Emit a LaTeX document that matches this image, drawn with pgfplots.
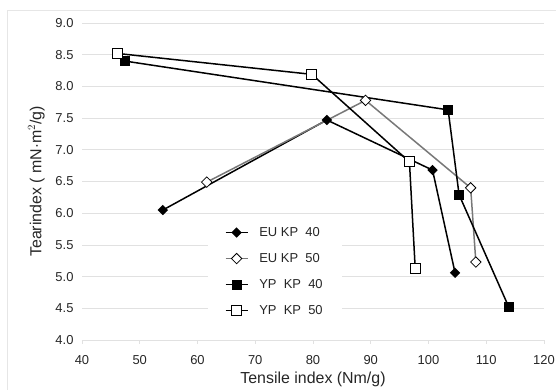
\documentclass[border=0pt]{standalone}
\usepackage{pgfplots}
\pgfplotsset{compat=1.18}
\usepackage{fontspec}
\setmainfont{Liberation Sans}
\definecolor{gridgray}{RGB}{225,225,225}
\definecolor{framegray}{RGB}{230,230,230}
\definecolor{eugray}{RGB}{120,120,120}
\begin{document}
\begin{tikzpicture}
\useasboundingbox (-82bp,-50bp) rectangle (474bp,340bp);
\draw[framegray, line width=0.8bp] (-75bp,-55bp) -- (-75bp,330bp) -- (480bp,330bp);
\begin{axis}[
  at={(0,0)}, anchor=south west,
  scale only axis, width=462bp, height=317bp,
  xmin=40, xmax=120, ymin=4, ymax=9,
  xtick={40,50,...,120}, ytick={4,4.5,...,9},
  /pgf/number format/assume math mode=true,
  yticklabel={\pgfmathprintnumber[fixed,fixed zerofill,precision=1]{\tick}},
  xticklabel={\pgfmathprintnumber[fixed,precision=0]{\tick}},
  axis lines*=left,
  y axis line style={draw=none},
  x axis line style={gridgray, line width=0.8bp, -},
  ymajorgrids, major grid style={gridgray, line width=0.8bp},
  xtick style={gridgray, line width=0.8bp},
  major tick length=4bp, tick align=outside,
  ytick style={draw=none},
  tick label style={font=\fontsize{13}{15}\selectfont, text=black!85},
  yticklabel style={xshift=-1bp},
  xticklabel style={yshift=-8bp},
  xlabel={Tensile index (Nm/g)},
  ylabel={Tearindex ( mN$\cdot$m$^2$/g)},
  label style={font=\fontsize{16}{18}\selectfont, text=black!85},
  xlabel style={yshift=0bp},
  ylabel style={yshift=4bp},
  legend style={at={(0.272,0.372)}, anchor=north west, draw=none, fill=white,
    font=\fontsize{13}{15}\selectfont, text=black!85, row sep=11.5bp,
    inner xsep=17bp, inner ysep=3bp},
  legend cell align=left,
  legend image code/.code={
    \draw[#1] (0bp,0bp) -- (22bp,0bp);
    \draw[#1] plot coordinates {(11bp,0bp)};
    \path (31bp,0bp);
  },
  clip=false,
]
\addplot[black, line width=1.5bp, mark=square*, mark size=2.9bp,
  mark options={fill=black, solid, rotate=45}]
  coordinates {(54,6.05) (82.4,7.47) (100.7,6.68) (104.6,5.06)};
\addlegendentry{EU\ KP\ \ 40}
\addplot[eugray, line width=1.5bp, mark=square*, mark size=3.7bp,
  mark options={fill=white, draw=black, line width=0.8bp, rotate=45}]
  coordinates {(61.6,6.49) (89.1,7.78) (107.3,6.40) (108.2,5.23)};
\addlegendentry{EU\ KP\ \ 50}
\addplot[black, line width=1.5bp, mark=square*, mark size=4.3bp,
  mark options={fill=black, solid}]
  coordinates {(47.4,8.40) (103.4,7.63) (105.3,6.29) (113.9,4.52)};
\addlegendentry{YP\ \ KP\ \ 40}
\addplot[black, line width=1.5bp, mark=square*, mark size=5bp,
  mark options={fill=white, draw=black, line width=0.8bp}]
  coordinates {(46.1,8.52) (79.8,8.19) (96.7,6.81) (97.7,5.13)};
\addlegendentry{YP\ \ KP\ \ 50}
\end{axis}
\end{tikzpicture}
\end{document}
